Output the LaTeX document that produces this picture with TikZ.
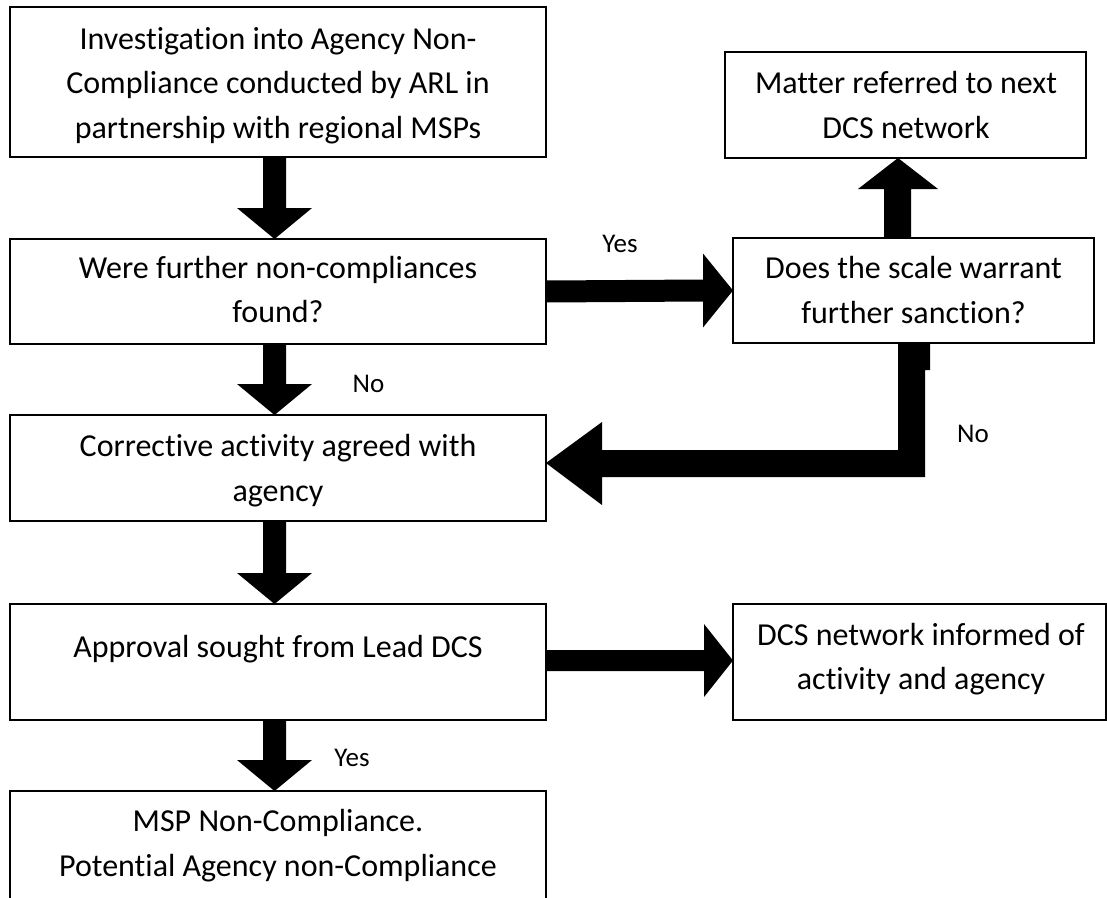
\documentclass[tikz,border=0pt]{standalone}
\usepackage{fontspec}
\setmainfont{Carlito}[Ligatures=NoCommon]
\usetikzlibrary{calc}
\tikzset{
  box/.style={draw=black, line width=1.1pt, inner sep=0pt, outer sep=0pt, rectangle},
  boxtext/.style={inner sep=0pt, outer sep=0pt, align=center, font=\fontsize{32}{44.5}\selectfont},
  lbl/.style={inner sep=0pt, anchor=base, font=\fontsize{27}{32}\selectfont},
  blk/.style={fill=black, draw=none}
}
% vertical block arrow from south of #1 to north of #2
\newcommand\vblk[2]{%
  \fill[blk] ($(#1.south)+(-15,0)$) -- ($(#1.south)+(8,0)$) --
    ($(#2.north)+(8,31)$) -- ($(#2.north)+(34,31)$) -- ($(#2.north)+(-3.5,0)$) --
    ($(#2.north)+(-41,31)$) -- ($(#2.north)+(-15,31)$) -- cycle;}
% horizontal block arrow from east of #1 to west of #2: #3 shaft half, #4 head half, #5 head length, #6 y offset
\newcommand\hblk[6]{%
  \fill[blk] ($(#1.east)+(0,#6+#3)$) -- ($(#2.west)+(-#5,#6+#3)$) --
    ($(#2.west)+(-#5,#6+#4)$) -- ($(#2.west)+(0,#6)$) -- ($(#2.west)+(-#5,#6-#4)$) --
    ($(#2.west)+(-#5,#6-#3)$) -- ($(#1.east)+(0,#6-#3)$) -- cycle;}
\begin{document}
\begin{tikzpicture}[x=1pt,y=1pt]
\useasboundingbox (0,0) rectangle (1107,-897);
\clip (0,0) rectangle (1107,-897);
\fill[white] (0,0) rectangle (1107,-897);

% boxes
\node[box, minimum width=536pt, minimum height=150pt] (A) at (278,-82) {};
\node[box, minimum width=536pt, minimum height=105pt] (B) at (278,-291.5) {};
\node[box, minimum width=536pt, minimum height=106pt] (C) at (278,-468) {};
\node[box, minimum width=536pt, minimum height=116pt] (D) at (278,-662) {};
\node[box, minimum width=536pt, minimum height=119pt] (E) at (278,-850.5) {};
\node[box, minimum width=361pt, minimum height=106pt] (F) at (905.5,-105) {};
\node[box, minimum width=361pt, minimum height=105pt] (G) at (913.5,-290.5) {};
\node[box, minimum width=373pt, minimum height=116pt] (H) at (919.5,-662) {};

% texts
\node[boxtext] (At) at (278,-84.6) {\strut Investigation into Agency Non-\\Compliance conducted by ARL in\\partnership with regional MSPs\strut};
\node[boxtext] (Bt) at (278,-291.6) {\strut Were further non-compliances\\found?\strut};
\node[boxtext] (Ct) at (278,-470.1) {\strut Corrective activity agreed with\\agency\strut};
\node[boxtext] (Dt) at (278,-648.1) {\strut Approval sought from Lead DCS};
\node[boxtext] (Et) at (278,-845.1) {\strut MSP Non-Compliance.\\Potential Agency non-Compliance\strut};
\node[boxtext] (Ft) at (906,-107.1) {\strut Matter referred to next\\DCS network\strut};
\node[boxtext] (Gt) at (913.5,-292.1) {\strut Does the scale warrant\\further sanction?\strut};
\node[boxtext] (Ht) at (921,-658.6) {\strut DCS network informed of\\activity and agency\strut};

% labels
\node[lbl] (yes1) at (620,-252) {Yes};
\node[lbl] (no1) at (368.5,-392) {No};
\node[lbl] (no2) at (973,-442) {No};
\node[lbl] (yes2) at (352,-766) {Yes};

% vertical arrows
\vblk{A}{B}
\vblk{B}{C}
\vblk{C}{D}
\vblk{D}{E}

% horizontal arrows
\hblk{B}{G}{11}{37}{30}{0}
\hblk{D}{H}{10.5}{36.5}{29}{1.5}

% up arrow G -> F
\fill[blk] ($(G.north)+(-29.5,0)$) -- ($(G.north)+(-2.5,0)$) --
  ($(F.south)+(5.5,-31)$) -- ($(F.south)+(32.5,-31)$) -- ($(F.south)+(-7.5,0)$) --
  ($(F.south)+(-47.5,-31)$) -- ($(F.south)+(-21.5,-31)$) -- cycle;

% elbow arrow G -> C (No)
\fill[blk] ($(G.south)+(-15.5,0)$) -- ($(G.south)+(16.5,0)$) -- ($(G.south)+(16.5,-27)$) --
  ($(G.south)+(11.5,-27)$) -- ($(G.south)+(11.5,-134)$) -- ($(C.east)+(56,-9)$) --
  ($(C.east)+(56,-37)$) -- ($(C.east)+(0,5)$) -- ($(C.east)+(56,46)$) --
  ($(C.east)+(56,18)$) -- ($(G.south)+(-15.5,-107)$) -- cycle;
\end{tikzpicture}
\end{document}
